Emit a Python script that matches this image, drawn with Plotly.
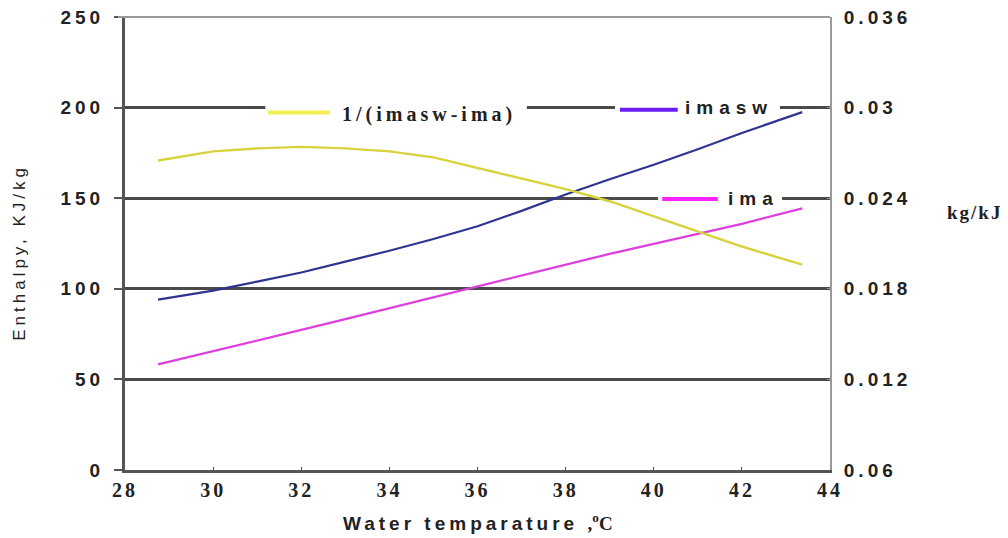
import plotly.graph_objects as go

# ---- data ----
temperature = [28.75, 30, 31, 32, 33, 34, 35, 36, 37, 38, 39, 40, 41, 42, 43.37]
imasw = [94, 99, 104, 109, 115, 121, 127.5, 134.5, 143, 152, 160.5, 168.5, 177, 186, 197.5]
ima = [58.3, 65.5, 71.4, 77.3, 83.3, 89.3, 95.3, 101.3, 107.3, 113.3, 119.3, 124.8, 130.2, 135.8, 144.4]
inv_diff = [0.0265, 0.0271, 0.0273, 0.0274, 0.0273, 0.0271, 0.0267, 0.0260, 0.0253,
            0.0246, 0.0238, 0.0228, 0.0218, 0.0208, 0.0196]

x_ticks = [28, 30, 32, 34, 36, 38, 40, 42, 44]
left_ticks = [0, 50, 100, 150, 200, 250]
right_ticks = [0.006, 0.012, 0.018, 0.024, 0.030, 0.036]
right_ticktext = ["0.06", "0.012", "0.018", "0.024", "0.03", "0.036"]

SANS = "Liberation Sans"
SERIF = "Liberation Serif"


def spaced(text, px):
    return f"<span style='letter-spacing:{px}px'>{text}</span>"


fig = go.Figure()
fig.add_trace(go.Scatter(x=temperature, y=imasw, mode="lines", name="imasw",
                         line=dict(color="#2F3490", width=2.2)))
fig.add_trace(go.Scatter(x=temperature, y=ima, mode="lines", name="ima",
                         line=dict(color="#DD3FDD", width=2.2)))
fig.add_trace(go.Scatter(x=temperature, y=inv_diff, mode="lines", name="1/(imasw-ima)",
                         yaxis="y2", line=dict(color="#D8D23C", width=2.4)))

# page body has an 8px default margin, so the figure is sized 1000x530
fig.update_layout(
    width=1000, height=530,
    margin=dict(l=117, r=178, t=9, b=68, autoexpand=False),
    paper_bgcolor="white", plot_bgcolor="white",
    showlegend=False,
    xaxis=dict(range=[28, 44], tickvals=x_ticks,
               ticktext=[spaced(str(v), 3) for v in x_ticks],
               showgrid=False, zeroline=False,
               automargin=False, ticklabeloverflow="allow",
               showline=True, linecolor="#555555", linewidth=3,
               ticks="inside", ticklen=3, tickcolor="#555555",
               tickfont=dict(family=SERIF, size=20, color="#222222", weight="bold")),
    yaxis=dict(range=[0, 250], tickvals=left_ticks,
               ticktext=[spaced(str(v), 4) for v in left_ticks],
               showgrid=True, gridcolor="#4a4a4a",
               automargin=False, ticklabeloverflow="allow", ticklabelstandoff=6,
               gridwidth=2.5, zeroline=False, showline=True, linecolor="#555555", linewidth=3,
               ticks="outside", ticklen=8, tickwidth=2, tickcolor="#555555",
               tickfont=dict(family=SANS, size=19, color="#222222", weight="bold")),
    yaxis2=dict(range=[0.006, 0.036], tickvals=right_ticks,
                ticktext=[spaced(t, 4) for t in right_ticktext],
                automargin=False, ticklabeloverflow="allow", ticklabelstandoff=8,
                overlaying="y", side="right", showgrid=False, zeroline=False,
                showline=True, linecolor="#9a9a9a", linewidth=2,
                ticks="inside", ticklen=3, tickcolor="#9a9a9a",
                tickfont=dict(family=SANS, size=19, color="#222222", weight="bold")),
)

shapes = [
    # top frame line
    dict(type="line", xref="paper", yref="paper", x0=-0.01, x1=1, y0=1, y1=1,
         line=dict(color="#9a9a9a", width=2), layer="above"),
    # legend 1 box + swatch
    dict(type="rect", xref="paper", yref="paper", x0=0.199, x1=0.570, y0=0.768, y1=0.812,
         fillcolor="white", line=dict(width=0), layer="above"),
    dict(type="line", xref="paper", yref="paper", x0=0.203, x1=0.291, y0=0.789, y1=0.789,
         line=dict(color="#F2EE55", width=4), layer="above"),
    # legend 2 box + swatch
    dict(type="rect", xref="paper", yref="paper", x0=0.695, x1=0.929, y0=0.777, y1=0.821,
         fillcolor="white", line=dict(width=0), layer="above"),
    dict(type="line", xref="paper", yref="paper", x0=0.702, x1=0.784, y0=0.795, y1=0.795,
         line=dict(color="#6A1CF5", width=4), layer="above"),
    # legend 3 box + swatch
    dict(type="rect", xref="paper", yref="paper", x0=0.756, x1=0.932, y0=0.578, y1=0.618,
         fillcolor="white", line=dict(width=0), layer="above"),
    dict(type="line", xref="paper", yref="paper", x0=0.762, x1=0.841, y0=0.598, y1=0.598,
         line=dict(color="#FF22FF", width=4), layer="above"),
]
fig.update_layout(shapes=shapes)

annotations = [
    dict(text=spaced("1/(imasw-ima)", 4), xref="paper", yref="paper", x=0.305, y=0.785,
         xanchor="left", yanchor="middle", showarrow=False,
         font=dict(family=SERIF, size=20, color="#222222", weight="bold")),
    dict(text=spaced("imasw", 6), xref="paper", yref="paper", x=0.791, y=0.800,
         xanchor="left", yanchor="middle", showarrow=False,
         font=dict(family=SANS, size=19, color="#222222", weight="bold")),
    dict(text=spaced("ima", 6), xref="paper", yref="paper", x=0.852, y=0.600,
         xanchor="left", yanchor="middle", showarrow=False,
         font=dict(family=SANS, size=19, color="#222222", weight="bold")),
    dict(text=spaced("Enthalpy, KJ/kg", 4), xref="paper", yref="paper", x=-0.150, y=0.48,
         xanchor="center", yanchor="middle", textangle=-90, showarrow=False,
         font=dict(family=SANS, size=17, color="#222222")),
    dict(text=spaced("kg/kJ", 2), xref="paper", yref="paper", x=1.163, y=0.568,
         xanchor="left", yanchor="middle", showarrow=False,
         font=dict(family=SERIF, size=19, color="#222222", weight="bold")),
    dict(text=spaced("Water temparature ", 4)
         + "<span style='font-family:Liberation Serif'>,<sup>o</sup>C</span>",
         xref="paper", yref="paper", x=0.5, y=-0.115,
         xanchor="center", yanchor="middle", showarrow=False,
         font=dict(family=SANS, size=19, color="#222222", weight="bold")),
]
fig.update_layout(annotations=annotations)

fig.write_html("out.html")
